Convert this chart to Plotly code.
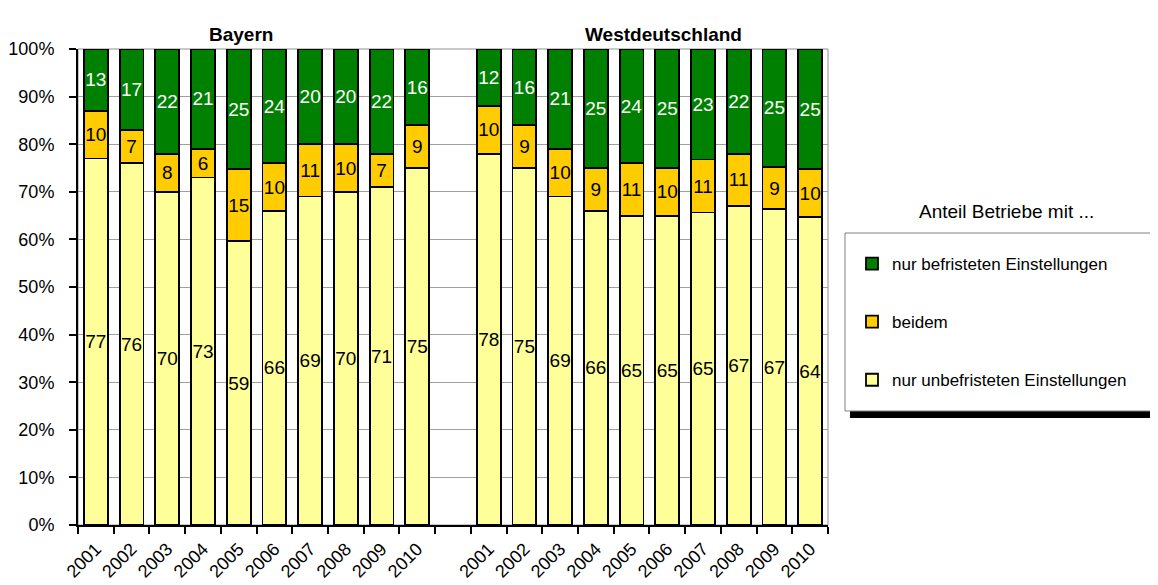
import plotly.graph_objects as go

# Daten (Anteile in %)
jahre = ["2001", "2002", "2003", "2004", "2005", "2006", "2007", "2008", "2009", "2010"]
regionen = ["Bayern", "Westdeutschland"]

bayern_unbefristet = [77, 76, 70, 73, 59, 66, 69, 70, 71, 75]
bayern_beidem = [10, 7, 8, 6, 15, 10, 11, 10, 7, 9]
bayern_befristet = [13, 17, 22, 21, 25, 24, 20, 20, 22, 16]

west_unbefristet = [78, 75, 69, 66, 65, 65, 65, 67, 67, 64]
west_beidem = [10, 9, 10, 9, 11, 10, 11, 11, 9, 10]
west_befristet = [12, 16, 21, 25, 24, 25, 23, 22, 25, 25]

serien = ["nur unbefristeten Einstellungen", "beidem", "nur befristeten Einstellungen"]
farben = ["#FFFF99", "#FFCC00", "#008000"]
textfarben = ["black", "black", "white"]
legend_rang = [3, 2, 1]

FONT = "Liberation Sans, Arial, sans-serif"
# die Seite hat 8px Rand -> Figur etwas kleiner, Koordinaten entsprechend
OFF = 8
W, H = 1150, 577
L, R, T, B = 70, 330, 41, 60

# Positionen: 10 Jahre Bayern, eine Lücke, 10 Jahre Westdeutschland
n = len(jahre)
x_bayern = list(range(n))
x_west = [i + n + 1 for i in range(n)]
xs = x_bayern + x_west
ticktext = jahre + jahre
grenzen = [i - 0.5 for i in range(2 * n + 2)]  # Striche zwischen den Balken

werte = [
    bayern_unbefristet + west_unbefristet,
    bayern_beidem + west_beidem,
    bayern_befristet + west_befristet,
]

fig = go.Figure()
for i, name in enumerate(serien):
    fig.add_trace(go.Bar(
        x=xs, y=werte[i], name=name, legendgroup=name, legendrank=legend_rang[i],
        marker=dict(color=farben[i], line=dict(color="black", width=1.8)),
        text=[str(v) for v in werte[i]],
        textposition="inside", insidetextanchor="middle", textangle=0,
        constraintext="none",
        textfont=dict(family=FONT, size=19, color=textfarben[i]),
        hoverinfo="skip",
    ))

def px_x(p):  # Bildschirm-Pixel -> Papierkoordinate
    return (p - OFF - L) / (W - L - R)

def px_y(p):
    return (H - B - (p - OFF)) / (H - T - B)

shapes = [
    # Rahmen Plotbereich
    dict(type="rect", xref="paper", yref="paper", x0=0, x1=1, y0=0, y1=1,
         line=dict(color="#909090", width=1), layer="below"),
    # Legenden-Schatten und Kasten
    dict(type="rect", xref="paper", yref="paper",
         x0=px_x(850), x1=px_x(1175), y0=px_y(418), y1=px_y(239),
         fillcolor="black", line=dict(width=0)),
    dict(type="rect", xref="paper", yref="paper",
         x0=px_x(845), x1=px_x(1170), y0=px_y(411), y1=px_y(233),
         fillcolor="white", line=dict(color="#808080", width=1)),
]

annotations = [
    dict(text="<b>Bayern</b>", x=4.07, xref="x", y=px_y(22), yref="paper",
         xanchor="center", showarrow=False, font=dict(family=FONT, size=19, color="black")),
    dict(text="<b>Westdeutschland</b>", x=15.9, xref="x", y=px_y(22), yref="paper",
         xanchor="center", showarrow=False, font=dict(family=FONT, size=19, color="black")),
    dict(text="Anteil Betriebe mit ...", x=px_x(1007), xref="paper", y=px_y(199),
         yref="paper", xanchor="center", showarrow=False,
         font=dict(family=FONT, size=19, color="black")),
]

fig.update_layout(
    width=W, height=H,
    margin=dict(l=L, r=R, t=T, b=B, autoexpand=False),
    barmode="stack", barnorm="percent", bargap=0.33,
    plot_bgcolor="white", paper_bgcolor="white",
    font=dict(family=FONT, size=18, color="black"),
    shapes=shapes, annotations=annotations,
    legend=dict(
        x=px_x(852), xanchor="left", y=px_y(246), yanchor="top",
        bgcolor="rgba(0,0,0,0)", borderwidth=0,
        traceorder="grouped", tracegroupgap=33,
        font=dict(family=FONT, size=17, color="black"),
        itemwidth=30,
    ),
    # Achse mit Strichen an den Balkengrenzen (ohne Beschriftung)
    xaxis=dict(
        range=[-0.5, 2 * n + 0.5], tickmode="array", tickvals=grenzen,
        ticktext=["" for _ in grenzen],
        ticks="outside", ticklen=7, tickcolor="black", tickwidth=1.5,
        showgrid=False, zeroline=False, automargin=False,
        showline=True, linecolor="black", linewidth=2,
    ),
    # überlagerte Achse nur für die Jahreszahlen
    xaxis2=dict(
        overlaying="x", anchor="y", side="bottom", matches="x",
        tickmode="array", tickvals=xs, ticktext=ticktext,
        tickangle=-45, ticks="", ticklabelstandoff=9,
        showgrid=False, zeroline=False, automargin=False, showline=False,
        tickfont=dict(family=FONT, size=18),
    ),
    yaxis=dict(
        range=[0, 100], dtick=10, ticksuffix="%", ticks="outside", ticklen=7,
        tickcolor="black", tickwidth=1.5, automargin=False, ticklabelstandoff=11,
        showgrid=True, gridcolor="#A0A0A0", gridwidth=1, zeroline=False,
        showline=True, linecolor="black", linewidth=2,
        tickfont=dict(family=FONT, size=18),
    ),
    showlegend=True,
)

# unsichtbare Spur, damit xaxis2 gezeichnet wird
fig.add_trace(go.Scatter(x=[xs[0]], y=[0], xaxis="x2", yaxis="y", mode="markers",
                         marker=dict(opacity=0), showlegend=False, hoverinfo="skip"))

fig.write_html("out.html")
